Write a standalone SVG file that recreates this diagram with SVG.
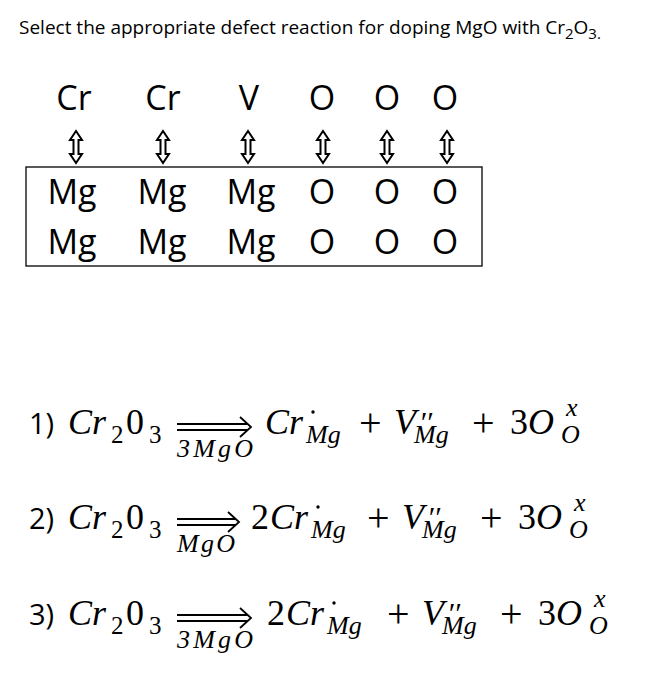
<svg xmlns="http://www.w3.org/2000/svg" width="656" height="679" viewBox="0 0 656 679">
<style>
.s{font-family:"Open Sans","Liberation Sans",sans-serif;fill:#000}
.t{font-size:34px}
.m{font-family:"Liberation Serif",serif;font-style:italic;font-size:36px}
.r{font-family:"Liberation Serif",serif;font-size:36px}
.p{font-family:"Liberation Serif",serif;font-size:40px}
.n{font-family:"Open Sans","Liberation Sans",sans-serif;font-size:29px}
.sb{font-family:"Liberation Serif",serif;font-style:italic;font-size:26px}
.ns{font-family:"Liberation Serif",serif;font-size:25px}
.pr{font-family:"Liberation Serif",serif;font-style:italic;font-size:30px}
.ar{fill:none;stroke:#000;stroke-width:1.8}
</style>
<defs>
<path id="va" d="M0,-16 L-6,-7 L-2.5,-7 L-2.5,7 L-6,7 L0,16 L6,7 L2.5,7 L2.5,-7 L6,-7 Z" fill="none" stroke="#000" stroke-width="2"/>
<g id="ra"><path d="M0,-3 H70 M0,3 H70" class="ar"/><path d="M63,-10 L74,0 L63,10" class="ar"/></g>
<g id="ra2"><path d="M0,-3 H58 M0,3 H58" class="ar"/><path d="M51,-10 L62,0 L51,10" class="ar"/></g>
</defs>
<rect width="656" height="679" fill="#fff"/>
<text x="19" y="34" class="s" font-size="19">Select the appropriate defect reaction for doping MgO with Cr<tspan font-size="15" dy="5">2</tspan><tspan dy="-5">O</tspan><tspan font-size="15" dy="5">3.</tspan></text>
<g id="lattice" class="s t" text-anchor="middle">
<text x="74" y="110">Cr</text><text x="163" y="110">Cr</text><text x="249" y="110">V</text><text x="322" y="110">O</text><text x="387" y="110">O</text><text x="445" y="110">O</text>
<rect x="26" y="167" width="456" height="99" fill="none" stroke="#000" stroke-width="1.3"/>
<text x="72" y="204">Mg</text><text x="162" y="204">Mg</text><text x="251" y="204">Mg</text><text x="322" y="204">O</text><text x="387" y="204">O</text><text x="445" y="204">O</text>
<text x="72" y="254">Mg</text><text x="162" y="254">Mg</text><text x="251" y="254">Mg</text><text x="322" y="254">O</text><text x="387" y="254">O</text><text x="445" y="254">O</text>
</g>
<g id="arrows">
<use href="#va" x="76" y="147"/><use href="#va" x="163" y="147"/><use href="#va" x="248" y="147"/><use href="#va" x="323" y="147"/><use href="#va" x="387" y="147"/><use href="#va" x="447" y="147"/>
</g>
<g id="eq1">
<text x="29" y="434" class="n">1)</text>
<text x="68" y="434" class="m">Cr</text><text x="111" y="443" class="ns">2</text><text x="126" y="434" class="r">0</text><text x="149" y="443" class="ns">3</text>
<use href="#ra" x="177" y="427"/>
<text x="177" y="457" class="sb" font-size="23" textLength="76">3MgO</text>
<text x="265" y="434" class="m">Cr</text><text x="306" y="443" class="sb">Mg</text>
<circle cx="313" cy="412" r="1.7"/>
<text x="359" y="436" class="p">+</text>
<text x="394" y="434" class="m">V</text><text x="414" y="443" class="sb">Mg</text>
<text x="419" y="432" class="pr">′′</text>
<text x="472" y="436" class="p">+</text>
<text x="510" y="434" class="r">3<tspan font-style="italic">O</tspan></text>
<text x="566" y="416" class="sb" font-size="22">x</text>
<text x="561" y="443" class="sb" font-size="23">O</text>
</g>
<g id="eq2" transform="translate(0,95)">
<text x="29" y="434" class="n">2)</text>
<text x="68" y="434" class="m">Cr</text><text x="111" y="443" class="ns">2</text><text x="126" y="434" class="r">0</text><text x="149" y="443" class="ns">3</text>
<use href="#ra2" x="177" y="427"/>
<text x="177" y="457" class="sb" font-size="23" textLength="58">MgO</text>
<text x="251" y="434" class="r">2</text>
<text x="270" y="434" class="m">Cr</text><text x="311" y="443" class="sb">Mg</text>
<circle cx="318" cy="412" r="1.7"/>
<text x="367" y="436" class="p">+</text>
<text x="402" y="434" class="m">V</text><text x="422" y="443" class="sb">Mg</text>
<text x="427" y="432" class="pr">′′</text>
<text x="480" y="436" class="p">+</text>
<text x="518" y="434" class="r">3<tspan font-style="italic">O</tspan></text>
<text x="574" y="416" class="sb" font-size="22">x</text>
<text x="569" y="443" class="sb" font-size="23">O</text>
</g>
<g id="eq3" transform="translate(0,191)">
<text x="29" y="434" class="n">3)</text>
<text x="68" y="434" class="m">Cr</text><text x="111" y="443" class="ns">2</text><text x="126" y="434" class="r">0</text><text x="149" y="443" class="ns">3</text>
<use href="#ra" x="177" y="427"/>
<text x="177" y="457" class="sb" font-size="23" textLength="76">3MgO</text>
<text x="267" y="434" class="r">2</text>
<text x="286" y="434" class="m">Cr</text><text x="327" y="443" class="sb">Mg</text>
<circle cx="334" cy="412" r="1.7"/>
<text x="387" y="436" class="p">+</text>
<text x="422" y="434" class="m">V</text><text x="442" y="443" class="sb">Mg</text>
<text x="447" y="432" class="pr">′′</text>
<text x="500" y="436" class="p">+</text>
<text x="538" y="434" class="r">3<tspan font-style="italic">O</tspan></text>
<text x="594" y="416" class="sb" font-size="22">x</text>
<text x="589" y="443" class="sb" font-size="23">O</text>
</g>
</svg>
